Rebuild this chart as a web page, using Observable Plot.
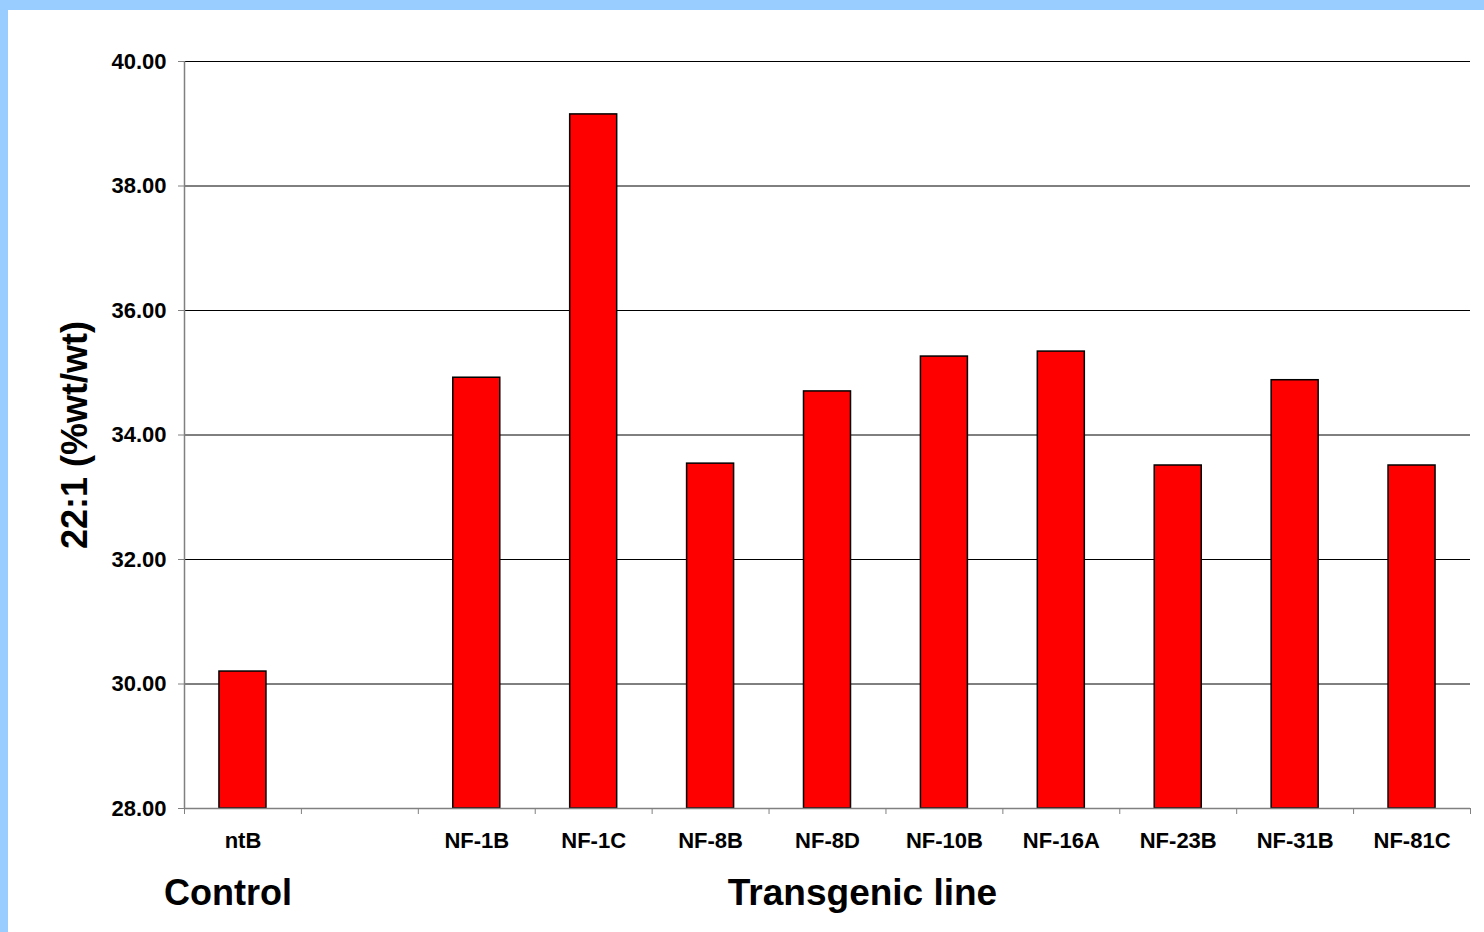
<!DOCTYPE html>
<html>
<head>
<meta charset="utf-8">
<script src="https://cdn.jsdelivr.net/npm/d3@7"></script>
<script src="https://cdn.jsdelivr.net/npm/@observablehq/plot@0.6"></script>
<style>
  html, body { margin: 0; padding: 0; }
  body { width: 1484px; height: 932px; overflow: hidden; background: #99CCFF; }
  #wrap { position: absolute; left: 8px; top: 10px; width: 1476px; height: 922px; background: #fff; }
</style>
</head>
<body>
<div id="wrap"></div>
<script>
const categories = ["ntB", " ", "NF-1B", "NF-1C", "NF-8B", "NF-8D", "NF-10B", "NF-16A", "NF-23B", "NF-31B", "NF-81C"];
const lines = ["ntB", "NF-1B", "NF-1C", "NF-8B", "NF-8D", "NF-10B", "NF-16A", "NF-23B", "NF-31B", "NF-81C"];
const values = [30.20, 34.92, 39.15, 33.54, 34.70, 35.26, 35.34, 33.51, 34.88, 33.51];
const yTicks = [28, 30, 32, 34, 36, 38, 40];
const yLabel = "22:1 (%wt/wt)";
const groupLabels = ["Control", "Transgenic line"];

const data = lines.map((c, i) => ({line: c, value: values[i]}));

const W = 1476, H = 922;
const mL = 176, mR = 14, mT = 51, mB = 124;
const step = (W - mL - mR) / categories.length;
const half = step / 2;
const barInset = (step - 47) / 2;
const font = "'Liberation Sans', Arial, Helvetica, sans-serif";
const axisColor = "#808080";

const chart = Plot.plot({
  width: W,
  height: H,
  marginLeft: mL,
  marginRight: mR,
  marginTop: mT,
  marginBottom: mB,
  style: {fontFamily: font, fontWeight: "bold", fontSize: "22px", background: "white", color: "#000", overflow: "visible"},
  x: {domain: categories, padding: 0, round: false, axis: null},
  y: {domain: [28, 40], axis: null},
  marks: [
    Plot.ruleY(yTicks.slice(1), {stroke: "#000", strokeOpacity: 1, strokeWidth: 1}),
    Plot.barY(data, {x: "line", y1: 28, y2: "value", fill: "#FF0000", stroke: "#000", strokeWidth: 1.5, insetLeft: barInset, insetRight: barInset}),
    // axis lines
    Plot.ruleY([28], {stroke: axisColor, strokeWidth: 1.5}),
    Plot.ruleX([categories[0]], {x: d => d, dx: -half, y1: 28, y2: 40, stroke: axisColor, strokeWidth: 1.5}),
    // y axis
    Plot.axisY(yTicks, {tickSize: 6, tickPadding: 12, tickFormat: d => d.toFixed(2), fontSize: 22, fontWeight: "bold", stroke: axisColor, label: null}),
    // x tick marks at band boundaries
    Plot.axisX(categories, {tickSize: 6, text: null, dx: -half, stroke: axisColor, label: null}),
    Plot.axisX([categories[categories.length - 1]], {tickSize: 6, text: null, dx: half, stroke: axisColor, label: null}),
    // x tick labels
    Plot.axisX(categories, {tickSize: 0, tickPadding: 24, tickFormat: d => d.trim(), fontSize: 22, fontWeight: "bold", label: null}),
    // y title
    Plot.text([yLabel], {frameAnchor: "left", textAnchor: "middle", rotate: -90, dx: -109, fontSize: 36, fontWeight: "bold", fill: "#000"}),
    // group labels
    Plot.text([groupLabels[0]], {x: () => "ntB", frameAnchor: "bottom", textAnchor: "middle", dx: -15, dy: 96, fontSize: 36, fontWeight: "bold", fill: "#000"}),
    Plot.text([groupLabels[1]], {frameAnchor: "bottom", textAnchor: "middle", dx: 35, dy: 96, fontSize: 37, fontWeight: "bold", fill: "#000"})
  ]
});
document.getElementById("wrap").appendChild(chart);
</script>
</body>
</html>
